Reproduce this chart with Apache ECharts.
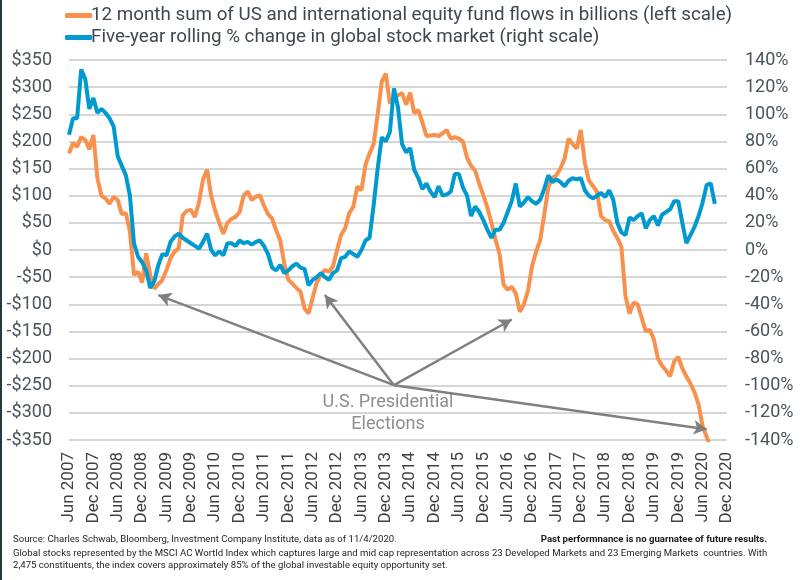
<!DOCTYPE html>
<html>
<head>
<meta charset="utf-8">
<script src="https://cdn.jsdelivr.net/npm/echarts@6/dist/echarts.min.js"></script>
<style>
html,body{margin:0;padding:0;background:#fff;}
#chart{width:801px;height:580px;}
</style>
</head>
<body>
<div id="chart"></div>
<script>
// Monthly categories Jun 2007 .. Dec 2020
const monthNames = ['Jan','Feb','Mar','Apr','May','Jun','Jul','Aug','Sep','Oct','Nov','Dec'];
const startYear = 2007, startMonth = 5, monthCount = 163;
const categories = [];
for (let i = 0; i < monthCount; i++) {
  const mi = startMonth + i;
  categories.push(monthNames[mi % 12] + ' ' + (startYear + Math.floor(mi / 12)));
}

const flowsName = '12 month sum of US and international equity fund flows in billions (left scale)';
const stockName = 'Five-year rolling % change in global stock market (right scale)';

// 12 month sum of equity fund flows ($bn), Jun 2007 onward
const flows = [
  178,197,190,208,203,185,212,132,100,95,
  85,98,92,66,68,34,-46,-40,-60,-6,
  -46,-71,-63,-55,-37,-15,-3,3,64,72,
  74,61,88,130,148,100,72,50,30,50,
  57,61,70,100,108,92,98,101,82,66,
  58,36,18,-25,-55,-62,-70,-77,-108,-117,
  -88,-60,-45,-37,-40,-30,0,28,40,68,
  80,117,110,157,178,195,250,310,325,270,
  279,285,289,268,290,252,258,235,210,211,
  212,210,215,221,205,208,205,200,170,155,
  146,122,101,78,50,20,-8,-64,-73,-68,
  -80,-114,-100,-75,-30,-3,18,65,115,133,
  138,150,168,205,195,187,221,160,128,118,
  107,62,55,53,35,22,6,-85,-117,-97,
  -100,-125,-150,-147,-165,-200,-213,-222,-233,-205,
  -197,-218,-233,-246,-262,-285,-325,-344,-365
];

// Five-year rolling % change in global stocks, Jun 2007 onward
const stocks = [
  85,97,97,133,126,104,112,101,104,101,
  97,91,69,62,55,40,5,-5,-9,-15,
  -28,-23,-11,-3,-4,6,10,12,9,7,
  5,3,1,6,12,0,-4,-1,-4,5,
  5,3,7,5,6,4,6,7,3,-3,
  -13,-15,-11,-17,-15,-12,-10,-13,-14,-26,
  -22,-20,-17,-20,-22,-17,-15,-6,-5,-1,
  -3,-5,0,7,9,33,60,83,80,87,
  119,105,78,72,75,59,53,45,49,43,
  39,47,40,41,43,56,56,46,40,25,
  32,28,22,15,9,15,15,20,28,36,
  49,32,35,39,36,34,37,45,55,50,
  52,50,47,51,53,52,53,44,40,38,
  40,42,39,44,37,20,13,11,24,22,
  25,27,16,22,25,18,26,28,30,36,
  36,20,5,11,17,25,35,48,49,34
];

// Election arrows: [month index, $bn] from label to each election
const arrowFrom = [80, -249];
const arrowTargets = [[22, -83], [63, -83], [109, -128], [157, -330]];
const annotationText = 'U.S. Presidential\nElections';

const leftTicks = {min: -350, max: 350, interval: 50};
const rightTicks = {min: -140, max: 140, interval: 20};

const FONT = 'Roboto, "Noto Sans", sans-serif';
const NOTE_FONT = 'Roboto, sans-serif';
const chart = echarts.init(document.getElementById('chart'), null, {renderer: 'canvas'});

chart.setOption({
  animation: false,
  backgroundColor: '#ffffff',
  textStyle: {fontFamily: FONT},
  grid: {left: 69, right: 74, top: 60, bottom: 140},
  legend: {
    orient: 'vertical', left: 60, top: 1, itemGap: 3,
    itemWidth: 27, itemHeight: 5, icon: 'roundRect',
    textStyle: {fontSize: 18.8, color: '#3f4851', fontFamily: FONT, padding: [0, 0, 0, -6]},
    data: [flowsName, stockName]
  },
  xAxis: {
    type: 'category', data: categories, boundaryGap: false,
    axisLine: {show: false}, axisTick: {show: false},
    axisLabel: {
      rotate: 90, fontSize: 17, color: '#404040', margin: 12,
      interval: (i) => i % 6 === 0
    },
    splitLine: {show: false}
  },
  yAxis: [
    {
      type: 'value', position: 'left', ...leftTicks,
      axisLine: {show: false}, axisTick: {show: false},
      axisLabel: {fontSize: 18, color: '#4a545d', margin: 17,
        formatter: (v) => (v < 0 ? '-$' + Math.abs(v) : '$' + v)},
      splitLine: {lineStyle: {color: '#c8c8c8', width: 1.5}}
    },
    {
      type: 'value', position: 'right', ...rightTicks,
      axisLine: {show: false}, axisTick: {show: false},
      axisLabel: {fontSize: 18, color: '#4a545d', margin: 18, formatter: (v) => v + '%'},
      splitLine: {show: false}
    }
  ],
  series: [
    {
      name: flowsName, type: 'line', yAxisIndex: 0, data: flows,
      showSymbol: false, symbol: 'none', z: 2,
      lineStyle: {color: '#f7914d', width: 4}, itemStyle: {color: '#f7914d'},
      markLine: {
        silent: true, symbol: ['none', 'arrow'], symbolSize: [11, 13],
        label: {show: false},
        lineStyle: {color: '#808080', width: 2.5, type: 'solid'},
        emphasis: {disabled: true},
        data: arrowTargets.map(t => [{coord: arrowFrom}, {coord: t}])
      }
    },
    {
      name: stockName, type: 'line', yAxisIndex: 1, data: stocks,
      showSymbol: false, symbol: 'none', z: 3,
      lineStyle: {color: '#0099d0', width: 4}, itemStyle: {color: '#0099d0'}
    }
  ],
  graphic: [
    {type: 'rect', shape: {x: 0, y: 0, width: 2, height: 580}, style: {fill: '#243845'}},
    {type: 'text', x: 388, y: 391, style: {text: annotationText, fontSize: 18, lineHeight: 22,
      fill: '#8e8e8e', align: 'center', fontFamily: FONT}},
    {type: 'text', x: 13, y: 535, style: {text: 'Source: Charles Schwab, Bloomberg, Investment Company Institute, data as of 11/4/2020.',
      fontSize: 9.6, fill: '#262626', fontFamily: NOTE_FONT}},
    {type: 'text', x: 767, y: 535, style: {text: 'Past performnance is no guarnatee of future results.',
      fontSize: 9.6, fontWeight: 'bold', fill: '#1a1a1a', align: 'right', fontFamily: NOTE_FONT}},
    {type: 'text', x: 13, y: 549, style: {text: 'Global stocks represented by the MSCI AC Wortld Index which captures large and mid cap representation across 23 Developed Markets and 23 Emerging Markets  countries. With',
      fontSize: 9.6, fill: '#262626', fontFamily: NOTE_FONT}},
    {type: 'text', x: 13, y: 561, style: {text: '2,475 constituents, the index covers approximately 85% of the global investable equity opportunity set.',
      fontSize: 9.6, fill: '#262626', fontFamily: NOTE_FONT}}
  ]
});
</script>
</body>
</html>
